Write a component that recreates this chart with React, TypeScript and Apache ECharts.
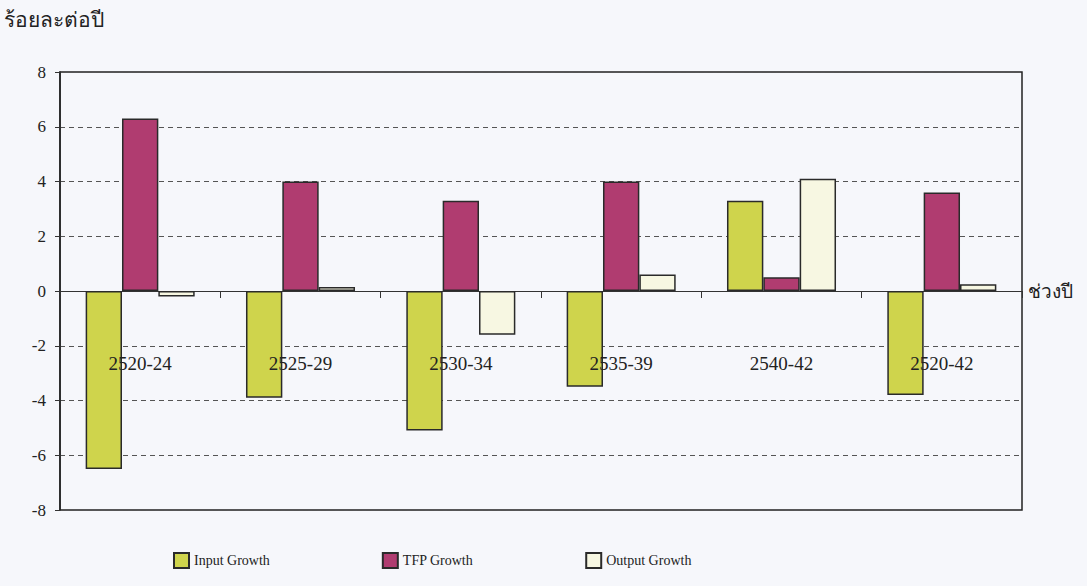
import React, { useEffect, useRef } from "react";
import * as echarts from "echarts";

const categories = ["2520-24", "2525-29", "2530-34", "2535-39", "2540-42", "2520-42"];
const inputGrowth = [-6.5, -3.9, -5.1, -3.5, 3.3, -3.8];
const tfpGrowth = [6.3, 4.0, 3.3, 4.0, 0.5, 3.6];
const outputGrowth = [-0.2, 0.15, -1.6, 0.6, 4.1, 0.25];
const seriesNames = ["Input Growth", "TFP Growth", "Output Growth"];
const yTicks = [-8, 8, 2];

const serif = "'Liberation Serif', 'DejaVu Serif', serif";

export default function App() {
  const ref = useRef<HTMLDivElement>(null);
  useEffect(() => {
    if (!ref.current) return;
    const chart = echarts.init(ref.current, undefined, { renderer: "svg" });
    const barStyle = (color: string) => ({
      color,
      borderColor: "#2a2a2a",
      borderWidth: 1.5,
    });
    chart.setOption({
      animation: false,
      backgroundColor: "#f6f7fb",
      textStyle: { fontFamily: serif },
      grid: {
        left: 60,
        right: 65,
        top: 72,
        bottom: 76,
        show: true,
        borderColor: "#222",
        borderWidth: 1.5,
        backgroundColor: "transparent",
      },
      legend: {
        left: 168,
        bottom: 12,
        itemGap: 112,
        itemWidth: 15,
        itemHeight: 15,
        icon: "rect",
        textStyle: { fontFamily: serif, fontSize: 14, color: "#222" },
        data: seriesNames,
      },
      xAxis: [
        {
          type: "category",
          data: categories,
          name: "ช่วงปี",
          nameLocation: "end",
          nameGap: 6,
          nameTextStyle: { fontSize: 19, color: "#222", padding: [12, 0, 0, 0] },
          axisLine: { onZero: true, lineStyle: { color: "#333", width: 1.2 } },
          axisTick: { show: true, length: 7, lineStyle: { color: "#333" } },
          axisLabel: { show: false },
        },
        {
          type: "category",
          data: categories,
          position: "bottom",
          offset: -164,
          axisLine: { show: false, onZero: false },
          axisTick: { show: false },
          axisLabel: { margin: 8, fontSize: 19, color: "#222", fontFamily: serif },
          z: 10,
        },
      ],
      yAxis: {
        type: "value",
        min: yTicks[0],
        max: yTicks[1],
        interval: yTicks[2],
        name: "ร้อยละต่อปี",
        nameLocation: "end",
        nameGap: 42,
        nameTextStyle: { fontSize: 21, color: "#222", align: "left", padding: [0, 0, 0, -56] },
        axisLine: { show: true, lineStyle: { color: "#222", width: 1.5 } },
        axisTick: { show: true, length: 5, lineStyle: { color: "#333" } },
        axisLabel: { fontSize: 17, color: "#222", margin: 14, fontFamily: serif },
        splitLine: { show: true, lineStyle: { type: [5, 4], color: "#555", width: 1 } },
      },
      series: [
        {
          name: seriesNames[0],
          type: "bar",
          data: inputGrowth,
          barGap: "0%",
          barCategoryGap: "32%",
          itemStyle: barStyle("#cfd44c"),
        },
        {
          name: seriesNames[1],
          type: "bar",
          data: tfpGrowth,
          barGap: "0%",
          barCategoryGap: "32%",
          itemStyle: barStyle("#b03c70"),
        },
        {
          name: seriesNames[2],
          type: "bar",
          data: outputGrowth,
          barGap: "0%",
          barCategoryGap: "32%",
          itemStyle: barStyle("#f7f7e2"),
        },
      ],
    });
    return () => chart.dispose();
  }, []);
  return (
    <div
      ref={ref}
      style={{ position: "fixed", left: 0, top: 0, width: 1087, height: 586 }}
    />
  );
}
